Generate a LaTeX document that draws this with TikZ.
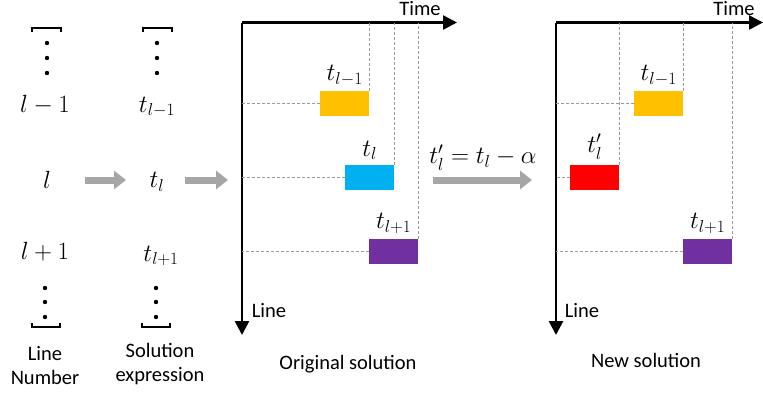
\documentclass[tikz,border=0pt]{standalone}
\usepackage{amsmath}
\usepackage{fontspec}
\setmainfont{Carlito}
\usetikzlibrary{arrows.meta}
\usetikzlibrary{positioning}
\definecolor{jobyellow}{HTML}{FFC000}
\definecolor{jobblue}{HTML}{00B0F0}
\definecolor{jobpurple}{HTML}{7030A0}
\definecolor{jobred}{HTML}{FF0000}
\definecolor{arrowgray}{HTML}{A6A6A6}
\definecolor{guidegray}{HTML}{9A9A9A}
\tikzstyle{txt} = [font=\fontsize{20.5}{24}\selectfont, inner sep=0pt, align=center]
\tikzstyle{sym} = [font=\fontsize{23}{27}\selectfont, inner sep=0pt]
\tikzstyle{bigarrow} = [line width=7pt, draw=arrowgray, -{Triangle[length=12pt,width=18pt]}]
\tikzstyle{axis} = [line width=2.6pt, -{Triangle[length=14pt,width=14pt]}]
\tikzstyle{guide} = [draw=guidegray, line width=0.8pt, dash pattern=on 3pt off 2pt]
\tikzstyle{job} = [rectangle, minimum width=49pt, minimum height=25pt, inner sep=0pt, anchor=north west]
\tikzstyle{brk} = [line width=1.6pt]

\begin{document}
\begin{tikzpicture}[x=1pt,y=-1pt]
	\useasboundingbox (0,0) rectangle (763,394);
	% left columns
	\draw[brk] (32,32) -- (32,28) -- (61,28) -- (61,32);
	\draw[brk] (143,32) -- (143,28) -- (172,28) -- (172,32);
	\draw[brk] (32,323) -- (32,327) -- (60,327) -- (60,323);
	\draw[brk] (142,323) -- (142,327) -- (170,327) -- (170,323);
	\foreach \y in {43,58,73} {
		\fill (47,\y) circle [radius=2.2];
		\fill (157,\y) circle [radius=2.2];
	}
	\foreach \y in {288,302,317} {
		\fill (45,\y) circle [radius=2.2];
		\fill (156,\y) circle [radius=2.2];
	}
	\node[sym] (lprev) at (45,105) {$l-1$};
	\node[sym] (lcur) at (47,180) {$l$};
	\node[sym] (lnext) at (45,252) {$l+1$};
	\node[sym] (tprev) at (157,107) {$t_{l-1}$};
	\node[sym] (tcur) at (157,182) {$t_l$};
	\node[sym] (tnext) at (161,256) {$t_{l+1}$};
	\node[txt] (linenum) at (45,366) {Line\\Number};
	\node[txt] (solexpr) at (160,364) {Solution\\expression};
	\coordinate (a1) at (85,180);
	\coordinate (a2) at (126,180);
	\coordinate (a3) at (185,180);
	\coordinate (a4) at (228,180);
	\draw[bigarrow] (a1) -- (a2);
	\draw[bigarrow] (a3) -- (a4);

	% original solution
	\coordinate (o1) at (242,22.5);
	\draw[axis] (o1) -- (457,22.5);
	\draw[axis] (o1) -- (242,335);
	\node[txt] (time1) at (420,9) {Time};
	\node[txt] (line1) at (269,311) {Line};
	\node[job, fill=jobyellow] (y1) at (320,91) {};
	\node[job, fill=jobblue] (b1) at (345,165) {};
	\node[job, fill=jobpurple] (p1) at (369,239) {};
	\foreach \j in {y1,b1,p1} {
		\draw[guide] (\j.west) -- (\j.west -| o1);
		\draw[guide] (\j.north east) -- (\j.north east |- o1);
	}
	\node[sym, above=5pt of y1] (ly1) {$t_{l-1}$};
	\node[sym, above=5pt of b1] (lb1) {$t_l$};
	\node[sym, above=5pt of p1] (lp1) {$t_{l+1}$};
	\node[txt] (orig) at (348,364) {Original solution};

	% move
	\coordinate (m1) at (433,180);
	\coordinate (m2) at (532,180);
	\draw[bigarrow] (m1) -- (m2);
	\node[sym] (shift) at (483,158) {$t_l'=t_l-\alpha$};

	% new solution
	\coordinate (o2) at (556,22.5);
	\draw[axis] (o2) -- (763,22.5);
	\draw[axis] (o2) -- (556,335);
	\node[txt] (time2) at (734,9) {Time};
	\node[txt] (line2) at (582,311) {Line};
	\node[job, fill=jobyellow] (y2) at (634,91) {};
	\node[job, fill=jobred] (r2) at (570,165) {};
	\node[job, fill=jobpurple] (p2) at (683,239) {};
	\foreach \j in {y2,r2,p2} {
		\draw[guide] (\j.west) -- (\j.west -| o2);
		\draw[guide] (\j.north east) -- (\j.north east |- o2);
	}
	\node[sym, above=5pt of y2] (ly2) {$t_{l-1}$};
	\node[sym, above=5pt of r2] (lr2) {$t_l'$};
	\node[sym, above=5pt of p2] (lp2) {$t_{l+1}$};
	\node[txt] (new) at (646,360) {New solution};
\end{tikzpicture}
\end{document}
